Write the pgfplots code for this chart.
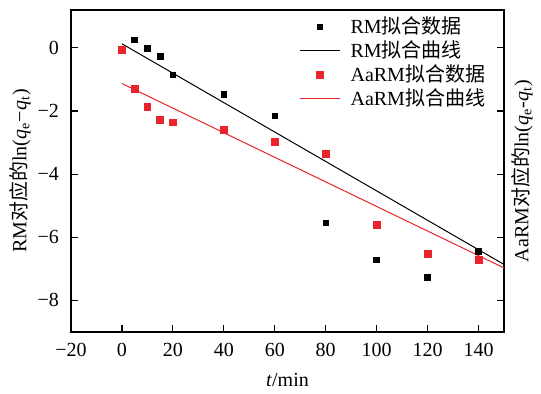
\documentclass[border=0pt]{standalone}
\usepackage{fontspec}
\setmainfont{Liberation Serif}
\newfontfamily\cjk{Noto Sans CJK SC}
\usepackage{pgfplots}
\pgfplotsset{compat=1.18}
\definecolor{myred}{RGB}{235,35,45}
\pgfplotsset{
  legline/.style={legend image code/.code={\draw[##1] (0pt,0pt) -- (20pt,0pt);}},
  legmark/.style={legend image code/.code={\draw[##1] plot coordinates {(10pt,0pt)};}},
}
\begin{document}
\begin{tikzpicture}
\begin{axis}[
  scale only axis, width=216.5pt, height=161pt,
  xmin=-20, xmax=150, ymin=-9, ymax=1.2,
  clip=false,
  axis line style={line width=0.8pt},
  tick style={line width=0.6pt, black},
  tick align=inside, major tick length=3.5pt,
  xtick pos=lower, ytick pos=both,
  xtick={-20,0,20,40,60,80,100,120,140},
  xticklabels={−20,0,20,40,60,80,100,120,140},
  ytick={-8,-6,-4,-2,0},
  yticklabels={−8,−6,−4,−2,0},
  yticklabel pos=left,
  x tick label style={yshift=-2pt},
  y tick label style={xshift=-2.5pt},
  xlabel={\textit{t}/min},
  xlabel style={at={(axis description cs:0.5,0)}, anchor=center, yshift=-24pt},
  ylabel={RM{\cjk 对应的}ln(\textit{q}\textsubscript{e}−\textit{q}\textsubscript{t})},
  ylabel style={at={(axis description cs:-0.118,0.5)}, anchor=center},
  legend style={at={(0.527,0.98)}, anchor=north west, draw=none, fill=none,
    inner sep=0pt, row sep=2pt, column sep=2pt,
    nodes={inner xsep=3pt, inner ysep=0pt, text height=8.5pt, text depth=1.5pt, anchor=west}},
  legend cell align=left,
]
\addplot[only marks, mark=square*, mark size=1.4pt, black, legmark]
  coordinates {(5,0.25) (10,-0.02) (15,-0.27) (20,-0.86) (40,-1.48) (60,-2.15) (80,-5.55) (100,-6.72) (120,-7.28) (140,-6.44)};
\addlegendentry{RM{\cjk 拟合数据}}
\addplot[black, line width=0.5pt, mark=none, legline]
  coordinates {(0,0.13) (150,-6.86)};
\addlegendentry{RM{\cjk 拟合曲线}}
\addplot[only marks, mark=square*, mark size=1.7pt, myred, legmark]
  coordinates {(0,-0.07) (5,-1.30) (10,-1.86) (15,-2.27) (20,-2.36) (40,-2.60) (60,-2.98) (80,-3.36) (100,-5.62) (120,-6.53) (140,-6.72)};
\addlegendentry{AaRM{\cjk 拟合数据}}
\addplot[myred, line width=0.5pt, mark=none, legline]
  coordinates {(0,-1.13) (150,-6.97)};
\addlegendentry{AaRM{\cjk 拟合曲线}}
\node[rotate=90, anchor=center] at ([xshift=9pt]rel axis cs:1,0.5) {AaRM{\cjk 对应的}ln(\textit{q}\textsubscript{e}-\textit{q}\textsubscript{t})};
\coordinate (bl) at ([xshift=-35.5pt, yshift=-31pt]rel axis cs:0,0);
\coordinate (tr) at ([xshift=18.5pt, yshift=5pt]rel axis cs:1,1);
\end{axis}
\pgfresetboundingbox
\path (bl) rectangle (tr);
\end{tikzpicture}
\end{document}
